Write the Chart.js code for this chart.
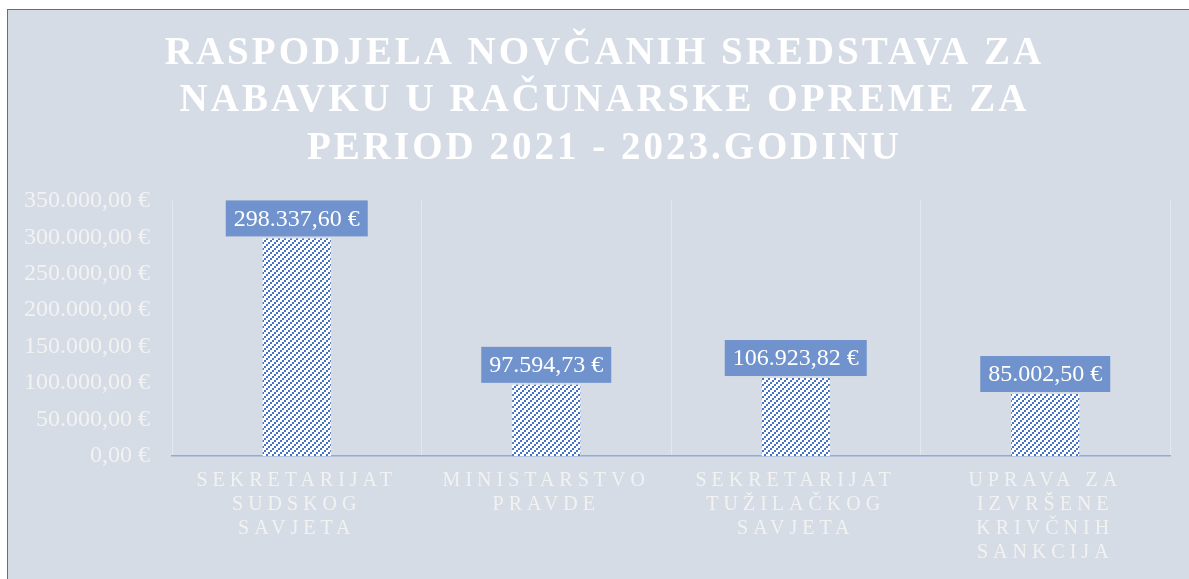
<!DOCTYPE html>
<html>
<head>
<meta charset="utf-8">
<script src="https://cdn.jsdelivr.net/npm/chart.js@4/dist/chart.umd.min.js"></script>
<style>
  html, body { margin: 0; padding: 0; background: #ffffff; }
  #wrap {
    position: absolute; left: 7px; top: 9px;
    width: 1181px; height: 569px;
    background: #D6DCE5;
    border-top: 1px solid #4472C4;
    border-left: 1px solid #4472C4;
  }
</style>
</head>
<body>
<div id="wrap"><canvas id="chart"></canvas></div>
<script>
// ---- Data ----
const titleLines = [
  'RASPODJELA NOVČANIH SREDSTAVA ZA',
  'NABAVKU U RAČUNARSKE OPREME ZA',
  'PERIOD 2021 - 2023.GODINU'
];
const categories = [
  ['SEKRETARIJAT', 'SUDSKOG', 'SAVJETA'],
  ['MINISTARSTVO', 'PRAVDE'],
  ['SEKRETARIJAT', 'TUŽILAČKOG', 'SAVJETA'],
  ['UPRAVA ZA', 'IZVRŠENE', 'KRIVČNIH', 'SANKCIJA']
];
const amounts = [298337.60, 97594.73, 106923.82, 85002.50];
const yMax = 350000;
const yStep = 50000;

// ---- Helpers ----
function euro(v) {
  const fixed = v.toFixed(2).split('.');
  const whole = fixed[0].replace(/\B(?=(\d{3})+(?!\d))/g, '.');
  return whole + ',' + fixed[1] + ' €';
}

// diagonal hatch (2px blocks stepping up-right), blue on white
function hatchPattern() {
  const c = document.createElement('canvas');
  c.width = 6; c.height = 6;
  const g = c.getContext('2d');
  g.fillStyle = '#ffffff';
  g.fillRect(0, 0, 6, 6);
  g.fillStyle = '#4472C4';
  for (let x = 0; x < 6; x++) {
    for (let y = 0; y < 6; y++) {
      if ((Math.floor(x / 2) + Math.floor(y / 2)) % 3 === 0) g.fillRect(x, y, 1, 1);
    }
  }
  return g.createPattern(c, 'repeat');
}

// scales that draw their tick labels letter-spaced and unclipped
function spaced(Base, id) {
  class Spaced extends Base {
    _computeLabelArea() { return undefined; }
    drawLabels(area) {
      this.ctx.save();
      this.ctx.letterSpacing = this.options.ticks.letterSpacing || '0px';
      super.drawLabels(area);
      this.ctx.restore();
    }
  }
  Spaced.id = id;
  Spaced.defaults = Base.defaults;
  return Spaced;
}
Chart.register(spaced(Chart.CategoryScale, 'spacedCategory'), spaced(Chart.LinearScale, 'spacedLinear'));

// title letter spacing on, reset before bars/labels
const titleSpacing = {
  id: 'titleSpacing',
  beforeDraw(chart) { chart.ctx.letterSpacing = '3px'; },
  beforeDatasetsDraw(chart) { chart.ctx.letterSpacing = '0px'; }
};

// value boxes above bars
const valueBoxes = {
  id: 'valueBoxes',
  afterDatasetsDraw(chart) {
    const ctx = chart.ctx;
    const meta = chart.getDatasetMeta(0);
    ctx.save();
    ctx.letterSpacing = '0px';
    ctx.font = '24px "Liberation Serif", "Times New Roman", serif';
    ctx.textAlign = 'center';
    ctx.textBaseline = 'middle';
    meta.data.forEach((bar, i) => {
      const text = euro(amounts[i]);
      const w = ctx.measureText(text).width + 16;
      const h = 36;
      const bottom = bar.y - 2;
      ctx.fillStyle = '#7092CD';
      ctx.fillRect(bar.x - w / 2, bottom - h, w, h);
      ctx.fillStyle = '#ffffff';
      ctx.fillText(text, bar.x, bottom - h / 2 + 1);
    });
    ctx.restore();
  }
};

const canvas = document.getElementById('chart');

new Chart(canvas, {
  type: 'bar',
  data: {
    labels: categories,
    datasets: [{
      data: amounts,
      backgroundColor: hatchPattern(),
      borderWidth: 0,
      categoryPercentage: 1,
      barPercentage: 0.273
    }]
  },
  options: {
    responsive: true,
    maintainAspectRatio: false,
    animation: false,
    layout: { padding: { left: 31, right: 19, top: 0, bottom: 0 } },
    plugins: {
      legend: { display: false },
      tooltip: { enabled: false },
      title: {
        display: true,
        text: titleLines,
        color: '#ffffff',
        font: { family: '"Liberation Serif", "Times New Roman", serif', size: 39, weight: 'bold', lineHeight: 1.22 },
        padding: { top: 20, bottom: 28 }
      }
    },
    scales: {
      x: {
        type: 'spacedCategory',
        offset: true,
        grid: { display: true, offset: true, drawTicks: false, color: 'rgba(255,255,255,0.35)', lineWidth: 1 },
        border: { display: true, color: '#8FAADC', width: 1.5 },
        ticks: {
          color: '#F2F2F2',
          letterSpacing: '5px',
          padding: 13,
          maxRotation: 0,
          minRotation: 0,
          autoSkip: false,
          font: { family: '"Liberation Serif", "Times New Roman", serif', size: 20, lineHeight: 1.2 }
        },
        afterFit(scale) { scale.height = 123; }
      },
      y: {
        type: 'spacedLinear',
        min: 0,
        max: yMax,
        grid: { display: false },
        border: { display: false },
        ticks: {
          stepSize: yStep,
          color: '#F2F2F2',
          padding: 14,
          font: { family: '"Liberation Serif", "Times New Roman", serif', size: 24 },
          callback: v => euro(v)
        },
        afterFit(scale) { scale.width = 133; }
      }
    }
  },
  plugins: [titleSpacing, valueBoxes]
});
</script>
</body>
</html>
